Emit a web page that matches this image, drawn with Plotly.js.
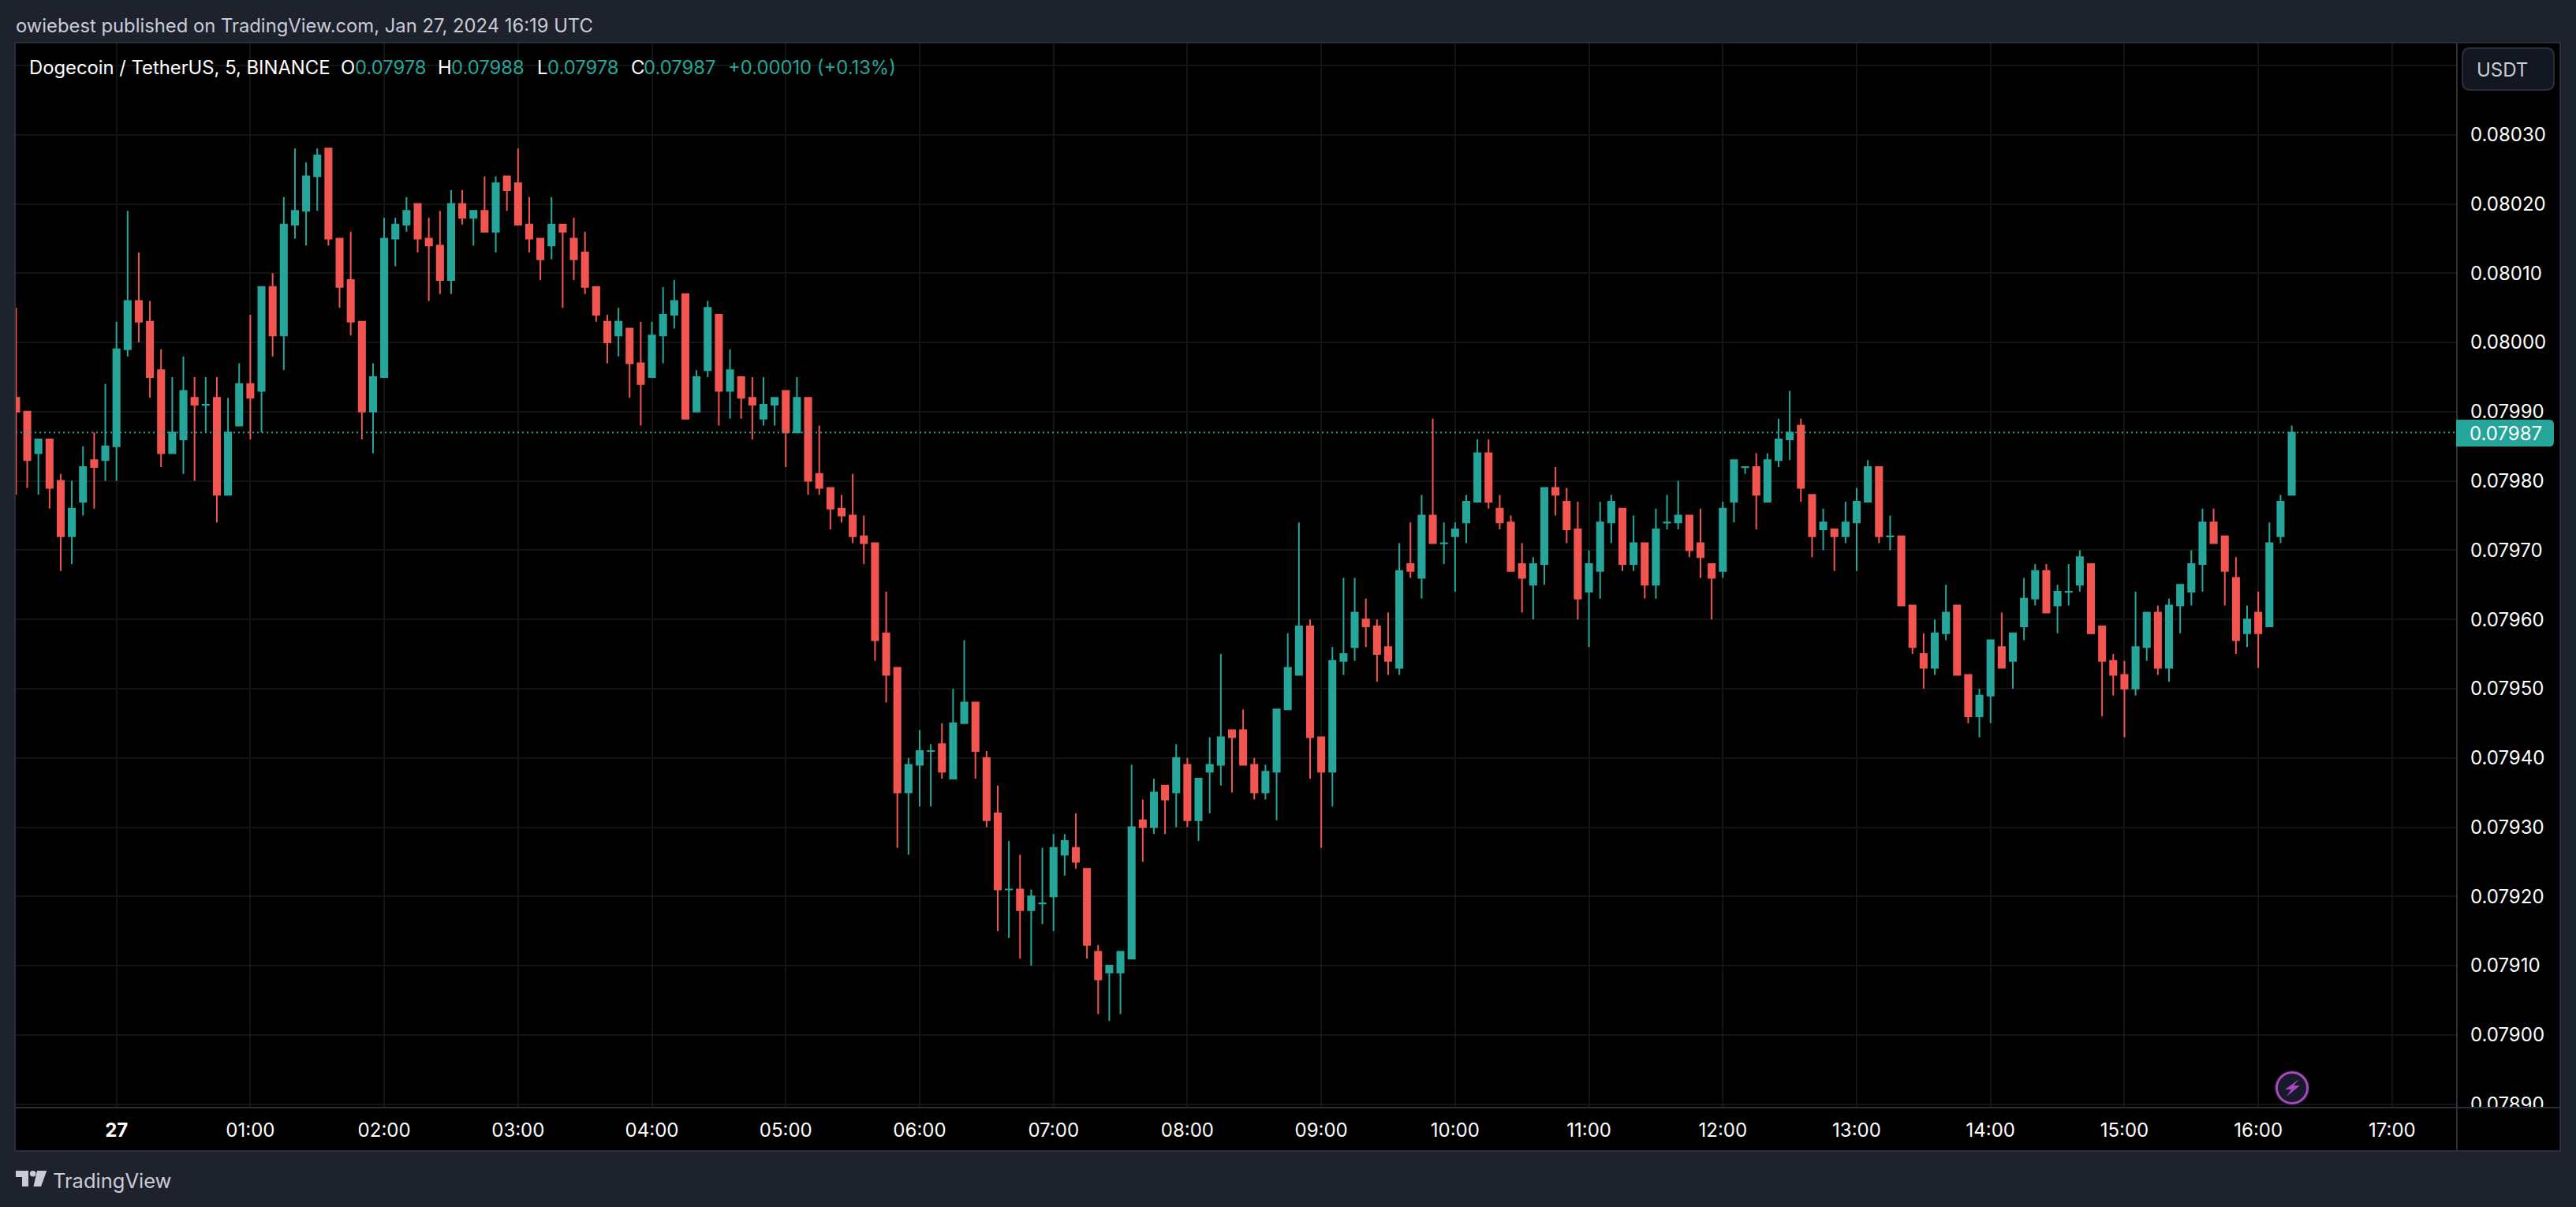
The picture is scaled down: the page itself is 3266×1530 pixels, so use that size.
<!DOCTYPE html>
<html>
<head>
<meta charset="utf-8">
<script src="https://cdn.plot.ly/plotly-3.0.1.min.js"></script>
<style>html,body{margin:0;padding:0;background:#1e222d;overflow:hidden}#chart{width:3266px;height:1530px}</style>
</head>
<body>
<div id="chart"></div>
<script>
const timesJan26 = ['23:15','23:20','23:25','23:30','23:35','23:40','23:45','23:50','23:55'];
const timesJan27 = [
'00:00','00:05','00:10','00:15','00:20','00:25','00:30','00:35','00:40','00:45','00:50','00:55',
'01:00','01:05','01:10','01:15','01:20','01:25','01:30','01:35','01:40','01:45','01:50','01:55',
'02:00','02:05','02:10','02:15','02:20','02:25','02:30','02:35','02:40','02:45','02:50','02:55',
'03:00','03:05','03:10','03:15','03:20','03:25','03:30','03:35','03:40','03:45','03:50','03:55',
'04:00','04:05','04:10','04:15','04:20','04:25','04:30','04:35','04:40','04:45','04:50','04:55',
'05:00','05:05','05:10','05:15','05:20','05:25','05:30','05:35','05:40','05:45','05:50','05:55',
'06:00','06:05','06:10','06:15','06:20','06:25','06:30','06:35','06:40','06:45','06:50','06:55',
'07:00','07:05','07:10','07:15','07:20','07:25','07:30','07:35','07:40','07:45','07:50','07:55',
'08:00','08:05','08:10','08:15','08:20','08:25','08:30','08:35','08:40','08:45','08:50','08:55',
'09:00','09:05','09:10','09:15','09:20','09:25','09:30','09:35','09:40','09:45','09:50','09:55',
'10:00','10:05','10:10','10:15','10:20','10:25','10:30','10:35','10:40','10:45','10:50','10:55',
'11:00','11:05','11:10','11:15','11:20','11:25','11:30','11:35','11:40','11:45','11:50','11:55',
'12:00','12:05','12:10','12:15','12:20','12:25','12:30','12:35','12:40','12:45','12:50','12:55',
'13:00','13:05','13:10','13:15','13:20','13:25','13:30','13:35','13:40','13:45','13:50','13:55',
'14:00','14:05','14:10','14:15','14:20','14:25','14:30','14:35','14:40','14:45','14:50','14:55',
'15:00','15:05','15:10','15:15','15:20','15:25','15:30','15:35','15:40','15:45','15:50','15:55',
'16:00','16:05','16:10','16:15'];

const openPrices = [
0.07992,0.07990,0.07984,0.07986,0.07980,0.07972,0.07977,0.07983,0.07983,
0.07985,0.07999,0.08006,0.08003,0.07996,0.07984,0.07986,0.07992,0.0799099,0.07992,0.07978,0.07988,
0.07994,0.07993,0.08008,0.08001,0.08017,0.08019,0.08024,0.08028,0.08015,0.08009,0.08003,0.07990,
0.07995,0.08015,0.08017,0.08020,0.08015,0.08014,0.08009,0.08020,0.08018,0.08019,0.08016,0.08024,
0.08023,0.08017,0.08015,0.08014,0.08017,0.08015,0.08013,0.08008,0.08003,0.08001,0.08002,0.07997,
0.07995,0.08001,0.08004,0.08007,0.07990,0.07996,0.08004,0.07993,0.07995,0.07992,0.07989,0.07991,
0.07993,0.07987,0.07992,0.07981,0.07979,0.07976,0.07975,0.07972,0.07971,0.07958,0.07953,0.07935,
0.07939,0.0794099,0.07942,0.07937,0.07945,0.07948,0.07940,0.07932,0.0792099,0.07921,0.07918,0.0791899,
0.07920,0.07926,0.07927,0.07924,0.07912,0.07909,0.07909,0.07911,0.07931,0.07930,0.07936,0.07935,
0.07939,0.07931,0.07938,0.07939,0.07944,0.07944,0.07939,0.07935,0.07938,0.07947,0.07952,0.07959,
0.07943,0.07938,0.07954,0.07956,0.07960,0.07959,0.07956,0.07953,0.07968,0.07966,0.07975,0.0797099,
0.07972,0.07974,0.07977,0.07984,0.07976,0.07974,0.07968,0.07965,0.07968,0.07979,0.07977,0.07973,
0.07964,0.07967,0.07974,0.07976,0.07968,0.07971,0.07965,0.0797399,0.07974,0.07975,0.07971,0.07968,
0.07967,0.07977,0.0798199,0.07982,0.07977,0.07983,0.07986,0.07988,0.07978,0.07973,0.07973,0.07972,
0.07974,0.07977,0.07982,0.0797199,0.07972,0.07962,0.07955,0.07953,0.07958,0.07962,0.07952,0.07946,
0.07949,0.07956,0.07954,0.07959,0.07963,0.07967,0.07962,0.0796399,0.07965,0.07968,0.07959,0.07954,
0.07952,0.07950,0.07956,0.07961,0.07953,0.07962,0.07964,0.07968,0.07974,0.07972,0.07966,0.07958,
0.07961,0.07959,0.07972,0.07978];

const highPrices = [
0.08005,0.07990,0.07986,0.07986,0.07981,0.07980,0.07985,0.07987,0.07994,
0.08003,0.08019,0.08013,0.08006,0.07999,0.07995,0.07998,0.07995,0.07995,0.07995,0.07992,0.07997,
0.08004,0.08008,0.08010,0.08021,0.08028,0.08026,0.08028,0.08028,0.08015,0.08016,0.08003,0.07997,
0.08018,0.08018,0.08021,0.08020,0.08018,0.08019,0.08022,0.08022,0.08019,0.08024,0.08024,0.08024,
0.08028,0.08021,0.08015,0.08021,0.08017,0.08018,0.08016,0.08008,0.08004,0.08005,0.08002,0.08003,
0.08003,0.08008,0.08009,0.08007,0.07996,0.08006,0.08004,0.07999,0.07995,0.07995,0.07995,0.07992,
0.07993,0.07995,0.07992,0.07988,0.07979,0.07978,0.07981,0.07975,0.07971,0.07964,0.07953,0.07940,
0.07944,0.07942,0.07945,0.07950,0.07957,0.07948,0.07941,0.07936,0.07928,0.07926,0.07921,0.07927,
0.07929,0.07929,0.07932,0.07924,0.07913,0.07910,0.07912,0.07939,0.07934,0.07937,0.07936,0.07942,
0.07940,0.07937,0.07943,0.07955,0.07944,0.07947,0.07940,0.07939,0.07947,0.07958,0.07974,0.07960,
0.07943,0.07956,0.07966,0.07966,0.07963,0.07960,0.07961,0.07971,0.07974,0.07978,0.07989,0.07974,
0.07974,0.07978,0.07986,0.07986,0.07978,0.07975,0.07971,0.07969,0.07979,0.07982,0.07979,0.07977,
0.07970,0.07977,0.07978,0.07976,0.07975,0.07971,0.07976,0.07978,0.07980,0.07975,0.07976,0.07968,
0.07977,0.07983,0.07982,0.07984,0.07984,0.07989,0.07993,0.07989,0.07978,0.07976,0.07973,0.07977,
0.07979,0.07983,0.07982,0.07975,0.07972,0.07962,0.07958,0.07960,0.07965,0.07962,0.07952,0.07950,
0.07957,0.07961,0.07958,0.07966,0.07968,0.07968,0.07965,0.07968,0.07970,0.07968,0.07959,0.07955,
0.07954,0.07964,0.07961,0.07962,0.07963,0.07965,0.07970,0.07976,0.07976,0.07972,0.07969,0.07962,
0.07964,0.07974,0.07978,0.07988];

const lowPrices = [
0.07978,0.07979,0.07978,0.07976,0.07967,0.07968,0.07975,0.07976,0.07980,
0.07980,0.07998,0.08000,0.07992,0.07982,0.07984,0.07981,0.07980,0.07987,0.07974,0.07978,0.07988,
0.07986,0.07987,0.07998,0.07996,0.08015,0.08014,0.08019,0.08014,0.08005,0.08001,0.07986,0.07984,
0.07995,0.08011,0.08016,0.08013,0.08006,0.08007,0.08007,0.08017,0.08014,0.08016,0.08013,0.08019,
0.08017,0.08013,0.08009,0.08012,0.08005,0.08009,0.08007,0.08003,0.07997,0.07998,0.07992,0.07988,
0.07995,0.07997,0.08002,0.07989,0.07990,0.07995,0.07988,0.07989,0.07989,0.07986,0.07988,0.07988,
0.07982,0.07987,0.07978,0.07978,0.07973,0.07974,0.07971,0.07968,0.07954,0.07948,0.07927,0.07926,
0.07933,0.07933,0.07937,0.07937,0.07945,0.07937,0.07930,0.07915,0.07914,0.07911,0.07910,0.07916,
0.07915,0.07923,0.07924,0.07911,0.07903,0.07902,0.07903,0.07911,0.07925,0.07929,0.07929,0.07930,
0.07930,0.07928,0.07932,0.07936,0.07935,0.07939,0.07934,0.07934,0.07931,0.07947,0.07952,0.07937,
0.07927,0.07933,0.07952,0.07954,0.07956,0.07951,0.07952,0.07952,0.07966,0.07963,0.07971,0.07968,
0.07964,0.07971,0.07977,0.07976,0.07973,0.07967,0.07961,0.07960,0.07965,0.07975,0.07971,0.07960,
0.07956,0.07963,0.07971,0.07967,0.07967,0.07963,0.07963,0.07973,0.07973,0.07969,0.07966,0.07960,
0.07966,0.07974,0.07981,0.07973,0.07977,0.07982,0.07983,0.07977,0.07969,0.07970,0.07967,0.07971,
0.07967,0.07977,0.07971,0.07970,0.07962,0.07955,0.07950,0.07952,0.07957,0.07952,0.07945,0.07943,
0.07945,0.07953,0.07950,0.07957,0.07962,0.07961,0.07958,0.07962,0.07964,0.07958,0.07946,0.07949,
0.07943,0.07949,0.07954,0.07952,0.07951,0.07958,0.07962,0.07964,0.07971,0.07962,0.07955,0.07956,
0.07953,0.07959,0.07971,0.07978];

const closePrices = [
0.07990,0.07983,0.07986,0.07979,0.07972,0.07976,0.07982,0.07982,0.07985,
0.07999,0.08006,0.08003,0.07995,0.07984,0.07987,0.07993,0.07991,0.07991,0.07978,0.07987,0.07994,
0.07992,0.08008,0.08001,0.08017,0.08019,0.08024,0.08027,0.08015,0.08008,0.08003,0.07990,0.07995,
0.08015,0.08017,0.08019,0.08015,0.08014,0.08009,0.08020,0.08018,0.08019,0.08016,0.08023,0.08022,
0.08017,0.08015,0.08012,0.08017,0.08016,0.08012,0.08008,0.08004,0.08000,0.08003,0.07997,0.07994,
0.08001,0.08004,0.08006,0.07989,0.07995,0.08005,0.07993,0.07996,0.07992,0.07991,0.07991,0.07992,
0.07987,0.07992,0.07980,0.07979,0.07976,0.07975,0.07972,0.07971,0.07957,0.07952,0.07935,0.07939,
0.07941,0.07941,0.07938,0.07945,0.07948,0.07941,0.07931,0.07921,0.07921,0.07918,0.07920,0.07919,
0.07927,0.07928,0.07925,0.07913,0.07908,0.07910,0.07912,0.07930,0.07930,0.07935,0.07934,0.07940,
0.07931,0.07937,0.07939,0.07943,0.07943,0.07939,0.07935,0.07938,0.07947,0.07953,0.07959,0.07943,
0.07938,0.07954,0.07955,0.07961,0.07959,0.07955,0.07954,0.07967,0.07967,0.07975,0.07971,0.07971,
0.07973,0.07977,0.07984,0.07977,0.07974,0.07967,0.07966,0.07968,0.07979,0.07978,0.07973,0.07963,
0.07968,0.07974,0.07977,0.07968,0.07971,0.07965,0.07973,0.07974,0.07975,0.07970,0.07969,0.07966,
0.07976,0.07983,0.07982,0.07978,0.07983,0.07986,0.07987,0.07979,0.07972,0.07974,0.07972,0.07974,
0.07977,0.07982,0.07972,0.07972,0.07962,0.07956,0.07953,0.07958,0.07961,0.07952,0.07946,0.07949,
0.07957,0.07953,0.07958,0.07963,0.07967,0.07961,0.07964,0.07964,0.07969,0.07958,0.07954,0.07952,
0.07950,0.07956,0.07961,0.07953,0.07962,0.07965,0.07968,0.07974,0.07971,0.07967,0.07957,0.07960,
0.07958,0.07971,0.07977,0.07987];

const hourTicks = ['00:00','01:00','02:00','03:00','04:00','05:00','06:00','07:00','08:00','09:00','10:00','11:00','12:00','13:00','14:00','15:00','16:00','17:00'];
const hourLabels = ['<b>27</b>','01:00','02:00','03:00','04:00','05:00','06:00','07:00','08:00','09:00','10:00','11:00','12:00','13:00','14:00','15:00','16:00','17:00'];
const priceTicks = [0.0789,0.079,0.0791,0.0792,0.0793,0.0794,0.0795,0.0796,0.0797,0.0798,0.0799,0.08,0.0801,0.0802,0.0803,0.0804];
const priceLabels = ['0.07890','0.07900','0.07910','0.07920','0.07930','0.07940','0.07950','0.07960','0.07970','0.07980','0.07990','0.08000','0.08010','0.08020','0.08030',''];
const lastPrice = 0.07987;

const UP = '#26a69a', DOWN = '#f25550', FRAME = '#2a2e39', PAGE = '#1e222d', SOFT = '#c9ccd8';
const FONT = 'Inter, "Noto Sans", sans-serif';

// pixel position on the page -> paper coordinates
const L = 20, R = 3115, T = 54, B = 1404;
const px = x => (x - L) / (R - L);
const py = y => (B - y) / (B - T);
const P = (x, y) => px(x).toFixed(5) + ',' + py(y).toFixed(5);
const box = (x0, y0, x1, y1, fill, lineColor, lineWidth, layer) => ({
  type: 'rect', xref: 'paper', yref: 'paper', x0: px(x0), x1: px(x1), y0: py(y0), y1: py(y1),
  fillcolor: fill, line: {color: lineColor || fill, width: lineWidth === undefined ? 0 : lineWidth}, layer: layer || 'below'
});
const poly = (pts, fill) => ({
  type: 'path', xref: 'paper', yref: 'paper', layer: 'above', fillcolor: fill, line: {width: 0},
  path: 'M' + pts.map(p => P(p[0], p[1])).join('L') + 'Z'
});
const hline = (x0, x1, y, c, w) => ({type: 'line', xref: 'paper', yref: 'paper', layer: 'above', x0: px(x0), x1: px(x1), y0: py(y), y1: py(y), line: {color: c, width: w}});
const vline = (x, y0, y1, c, w) => ({type: 'line', xref: 'paper', yref: 'paper', layer: 'above', x0: px(x), x1: px(x), y0: py(y0), y1: py(y1), line: {color: c, width: w}});
const circle = (cx, cy, r, fill, c, w) => ({type: 'circle', xref: 'paper', yref: 'paper', layer: 'above', x0: px(cx - r), x1: px(cx + r), y0: py(cy + r), y1: py(cy - r), fillcolor: fill, line: {color: c, width: w}});
const label = (x, y, text, color, size) => ({
  xref: 'paper', yref: 'paper', x: px(x), y: py(y), text: text, showarrow: false, xanchor: 'left', yanchor: 'middle',
  borderpad: 0, borderwidth: 0, font: {family: FONT, size: size || 23.8, color: color}
});

const tagPath = 'M' + [[3114,532],[3232,532]].map(p => P(p[0], p[1])).join('L') +
  'Q' + P(3238,532) + ' ' + P(3238,538) + 'L' + P(3238,560) + 'Q' + P(3238,566) + ' ' + P(3232,566) + 'L' + P(3114,566) + 'Z';
const usdtPath = 'M' + P(3132,61) + 'L' + P(3228,61) + 'Q' + P(3238,61) + ' ' + P(3238,71) + 'L' + P(3238,104) + 'Q' + P(3238,114) + ' ' + P(3228,114) +
  'L' + P(3132,114) + 'Q' + P(3122,114) + ' ' + P(3122,104) + 'L' + P(3122,71) + 'Q' + P(3122,61) + ' ' + P(3132,61) + 'Z';

const shapes = [
  box(L, B, R, 1459, '#000000'),
  box(R, T, 3246, 1459, '#000000'),
  {type: 'line', xref: 'paper', yref: 'y', layer: 'above', x0: 0, x1: 1, y0: lastPrice, y1: lastPrice, line: {color: UP, width: 2, dash: '2px,4px'}},
  box(R + 1, B, 3246, 1459, '#000000', null, 0, 'above'),
  box(0, 1459, 3266, 1530, PAGE, null, 0, 'above'),
  hline(19, 3247, 54, FRAME, 2),
  hline(19, 3247, 1459, FRAME, 2),
  hline(20, 3246, 1404, FRAME, 2),
  vline(19, 53, 1460, FRAME, 2),
  vline(3246, 53, 1460, FRAME, 2),
  vline(R, 54, 1459, FRAME, 2),
  {type: 'path', xref: 'paper', yref: 'paper', layer: 'above', path: tagPath, fillcolor: UP, line: {width: 0}},
  {type: 'path', xref: 'paper', yref: 'paper', layer: 'above', path: usdtPath, fillcolor: '#131722', line: {color: FRAME, width: 2}},
  circle(2906, 1379, 22.5, '#131722', '#131722', 0),
  circle(2906, 1379, 19.5, '#171a2a', '#ab47bc', 3),
  poly([[2915,1368],[2897,1381],[2905,1381],[2899,1390],[2916,1376],[2908,1376]], '#ab47bc'),
  poly([[20,1484],[36,1484],[36,1504],[28,1504],[28,1492],[20,1492]], SOFT),
  circle(41.7, 1487.8, 3.8, SOFT, SOFT, 0),
  poly([[47,1484],[59.3,1484],[52,1504],[42.5,1504]], SOFT)
];

const annotations = [
  label(20, 32, 'owiebest published on TradingView.com, Jan 27, 2024 16:19 UTC', SOFT),
  label(37, 85, 'Dogecoin / TetherUS, 5, BINANCE', '#ffffff'),
  label(432, 85, 'O', '#ffffff'), label(450, 85, '0.07978', UP),
  label(555, 85, 'H', '#ffffff'), label(572, 85, '0.07988', UP),
  label(681, 85, 'L', '#ffffff'), label(694, 85, '0.07978', UP),
  label(800, 85, 'C', '#ffffff'), label(816, 85, '0.07987', UP),
  label(923, 85, '+0.00010 (+0.13%)', UP),
  label(3131, 549, '0.07987', '#ffffff', 24),
  label(3140, 88, 'USDT', SOFT, 24),
  label(67, 1496, 'TradingView', SOFT, 25.5)
];

const trace = {
  type: 'candlestick',
  x: [...timesJan26.map(t => '2024-01-26 ' + t), ...timesJan27.map(t => '2024-01-27 ' + t)],
  open: openPrices, high: highPrices, low: lowPrices, close: closePrices,
  whiskerwidth: 0,
  increasing: {line: {color: UP, width: 2}, fillcolor: UP},
  decreasing: {line: {color: DOWN, width: 2}, fillcolor: DOWN},
  hoverinfo: 'skip', showlegend: false
};

const layout = {
  width: 3266, height: 1530, autosize: false,
  paper_bgcolor: PAGE, plot_bgcolor: '#000000',
  margin: {l: L, r: 3266 - R, t: T, b: 1530 - B, pad: 0},
  showlegend: false, hovermode: false, boxgap: 0.43, boxgroupgap: 0, dragmode: false,
  font: {family: FONT, size: 24, color: '#ffffff'},
  xaxis: {
    type: 'date', range: ['2024-01-26 23:14:52', '2024-01-27 17:29:02'],
    rangeslider: {visible: false},
    tickmode: 'array', tickvals: hourTicks.map(t => '2024-01-27 ' + t), ticktext: hourLabels,
    showgrid: true, gridcolor: '#141414', gridwidth: 2, zeroline: false, showline: false,
    ticks: '', ticklabelstandoff: 12, tickangle: 0,
    tickfont: {family: FONT, size: 24, color: '#ffffff'}
  },
  yaxis: {
    side: 'right', range: [0.078895, 0.080433], tickmode: 'array',
    tickvals: priceTicks, ticktext: priceLabels,
    showgrid: true, gridcolor: '#141414', gridwidth: 2, zeroline: false, showline: false,
    ticks: '', ticklabelstandoff: 16,
    tickfont: {family: FONT, size: 24, color: '#ffffff'}
  },
  shapes, annotations
};

Plotly.newPlot('chart', [trace], layout, {displayModeBar: false, staticPlot: true, responsive: false});
</script>
</body>
</html>
